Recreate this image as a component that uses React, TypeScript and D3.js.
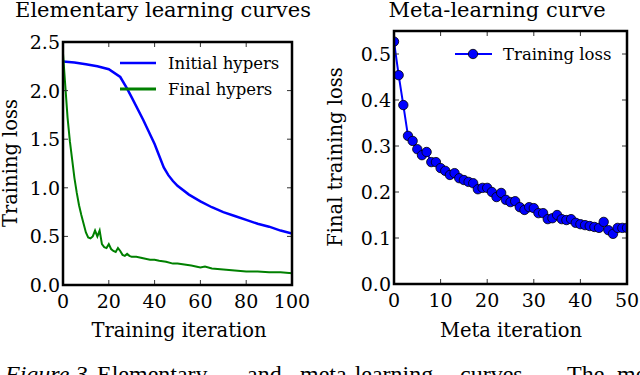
import * as d3 from "d3";

// Elementary learning curves (left panel)
const initIter = [0, 5, 10, 15, 20, 25, 28, 30, 35, 40, 42, 44, 46, 48, 50, 55, 60, 65, 70, 75, 80, 85, 90, 95, 100];
const initLoss = [2.30, 2.29, 2.27, 2.25, 2.22, 2.14, 2.02, 1.93, 1.70, 1.45, 1.33, 1.21, 1.13, 1.07, 1.02, 0.93, 0.86, 0.80, 0.75, 0.71, 0.67, 0.63, 0.60, 0.56, 0.53];

const finalIter = [0, 1, 2, 3, 4, 5, 6, 7, 8, 9, 10, 11, 12, 13, 14, 15, 16, 17, 18, 19, 20, 21, 22, 23, 24, 25, 26, 27, 28, 29, 30, 32, 34, 36, 38, 40, 42, 45, 48, 50, 53, 56, 58, 60, 62, 65, 70, 75, 80, 85, 90, 95, 100];
const finalLoss = [2.38, 2.05, 1.72, 1.48, 1.29, 1.10, 0.95, 0.82, 0.72, 0.63, 0.54, 0.49, 0.48, 0.50, 0.56, 0.50, 0.56, 0.42, 0.39, 0.38, 0.42, 0.37, 0.35, 0.34, 0.38, 0.35, 0.31, 0.30, 0.32, 0.30, 0.29, 0.29, 0.28, 0.27, 0.26, 0.26, 0.25, 0.24, 0.22, 0.22, 0.21, 0.20, 0.19, 0.18, 0.19, 0.17, 0.16, 0.15, 0.14, 0.14, 0.13, 0.13, 0.12];

// Meta-learning curve (right panel), one value per meta iteration 0..50
const metaLoss = [0.527, 0.454, 0.389, 0.322, 0.311, 0.293, 0.280, 0.287, 0.265, 0.265, 0.252, 0.246, 0.237, 0.241, 0.230, 0.226, 0.222, 0.219, 0.206, 0.209, 0.209, 0.200, 0.189, 0.198, 0.183, 0.178, 0.180, 0.167, 0.161, 0.167, 0.165, 0.154, 0.154, 0.141, 0.143, 0.150, 0.141, 0.139, 0.141, 0.133, 0.130, 0.128, 0.126, 0.124, 0.122, 0.135, 0.117, 0.109, 0.122, 0.122, 0.122];

const leftXTicks = [0, 20, 40, 60, 80, 100];
const leftYTicks = [0, 0.5, 1.0, 1.5, 2.0, 2.5];
const rightXTicks = [0, 10, 20, 30, 40, 50];
const rightYTicks = [0, 0.1, 0.2, 0.3, 0.4, 0.5];

// caption words (the caption is cut off by the bottom edge)
const captionWords = ["Elementary", "and", "meta-learning", "curves.", "The", "meta"];
const captionStarts = [97, 247, 300, 460, 567, 617];

const FONT = "'DejaVu Serif', serif";

type Panel = {
  x: d3.ScaleLinear<number, number>;
  y: d3.ScaleLinear<number, number>;
  xTicks: number[];
  yTicks: number[];
  fmtX: (v: number) => string;
  fmtY: (v: number) => string;
};

function Frame({ p, id }: { p: Panel; id: string }) {
  const [x0, x1] = p.x.range();
  const [y0, y1] = p.y.range(); // y0 bottom, y1 top
  const tl = 5;
  return (
    <g>
      {p.xTicks.map((t) => (
        <g key={"x" + t}>
          <line x1={p.x(t)} x2={p.x(t)} y1={y0} y2={y0 - tl} stroke="#333" strokeWidth={1} />
          <line x1={p.x(t)} x2={p.x(t)} y1={y1} y2={y1 + tl} stroke="#333" strokeWidth={1} />
          <text x={p.x(t)} y={y0 + 23} textAnchor="middle" fontSize={19} fontFamily={FONT}>
            {p.fmtX(t)}
          </text>
        </g>
      ))}
      {p.yTicks.map((t) => (
        <g key={"y" + t}>
          <line x1={x0} x2={x0 + tl} y1={p.y(t)} y2={p.y(t)} stroke="#333" strokeWidth={1} />
          <line x1={x1} x2={x1 - tl} y1={p.y(t)} y2={p.y(t)} stroke="#333" strokeWidth={1} />
          <text x={x0 - 3} y={p.y(t) + 7} textAnchor="end" fontSize={19} fontFamily={FONT}>
            {p.fmtY(t)}
          </text>
        </g>
      ))}
      <rect x={x0} y={y1} width={x1 - x0} height={y0 - y1} fill="none" stroke="#000" strokeWidth={2.5} />
      <clipPath id={id}>
        <rect x={x0} y={y1} width={x1 - x0} height={y0 - y1} />
      </clipPath>
    </g>
  );
}

export default function App() {
  const left: Panel = {
    x: d3.scaleLinear().domain([0, 100]).range([63, 292]),
    y: d3.scaleLinear().domain([0, 2.5]).range([285, 42]),
    xTicks: leftXTicks,
    yTicks: leftYTicks,
    fmtX: d3.format("d"),
    fmtY: d3.format(".1f"),
  };
  const right: Panel = {
    x: d3.scaleLinear().domain([0, 50]).range([394, 627]),
    y: d3.scaleLinear().domain([0, 0.55]).range([284, 31]),
    xTicks: rightXTicks,
    yTicks: rightYTicks,
    fmtX: d3.format("d"),
    fmtY: d3.format(".1f"),
  };

  const lineI = d3
    .line<number>()
    .x((_, i) => left.x(initIter[i]))
    .y((d) => left.y(d));
  const lineF = d3
    .line<number>()
    .x((_, i) => left.x(finalIter[i]))
    .y((d) => left.y(d));
  const lineM = d3
    .line<number>()
    .x((_, i) => right.x(i))
    .y((d) => right.y(d));

  return (
    <svg width={640} height={375} style={{ position: "absolute", left: 0, top: 0, background: "#fff" }}>
      <rect width={640} height={375} fill="#fff" />

      {/* left panel */}
      <text x={163} y={17} textAnchor="middle" fontSize={21} fontFamily={FONT}>
        Elementary learning curves
      </text>
      <g clipPath="url(#clipL)">
        <path d={lineI(initLoss) ?? ""} fill="none" stroke="#0000ff" strokeWidth={2.5} />
        <path d={lineF(finalLoss) ?? ""} fill="none" stroke="#008000" strokeWidth={2} />
      </g>
      <Frame p={left} id="clipL" />
      <line x1={120} x2={156} y1={63} y2={63} stroke="#0000ff" strokeWidth={2.5} />
      <text x={168} y={69} fontSize={16.5} fontFamily={FONT}>Initial hypers</text>
      <line x1={120} x2={156} y1={89} y2={89} stroke="#008000" strokeWidth={3} />
      <text x={168} y={95} fontSize={16.5} fontFamily={FONT}>Final hypers</text>
      <text x={179} y={337} textAnchor="middle" fontSize={19.5} fontFamily={FONT}>
        Training iteration
      </text>
      <text transform="translate(17,163) rotate(-90)" textAnchor="middle" fontSize={19.5} fontFamily={FONT}>
        Training loss
      </text>

      {/* right panel */}
      <text x={497} y={17} textAnchor="middle" fontSize={21} fontFamily={FONT}>
        Meta-learning curve
      </text>
      <g clipPath="url(#clipR)">
        <path d={lineM(metaLoss) ?? ""} fill="none" stroke="#0000ff" strokeWidth={2} />
        {metaLoss.map((d, i) => (
          <circle key={i} cx={right.x(i)} cy={right.y(d)} r={4.7} fill="#0000ff" stroke="#000" strokeWidth={0.8} />
        ))}
      </g>
      <Frame p={right} id="clipR" />
      <line x1={455} x2={492} y1={54} y2={54} stroke="#0000ff" strokeWidth={2} />
      <circle cx={473} cy={54} r={4.7} fill="#0000ff" stroke="#000" strokeWidth={0.8} />
      <text x={503} y={60} fontSize={16.5} fontFamily={FONT}>Training loss</text>
      <text x={511} y={337} textAnchor="middle" fontSize={19.5} fontFamily={FONT}>
        Meta iteration
      </text>
      <text transform="translate(342,157) rotate(-90)" textAnchor="middle" fontSize={19.5} fontFamily={FONT}>
        Final training loss
      </text>

      {/* caption, cut off by the bottom edge */}
      <text y={382} fontSize={24} fontFamily="'Liberation Serif', serif">
        <tspan x={5} fontStyle="italic">Figure 3</tspan>
        {captionWords.map((w, i) => (
          <tspan key={w} x={captionStarts[i]}>{w}</tspan>
        ))}
      </text>
    </svg>
  );
}
